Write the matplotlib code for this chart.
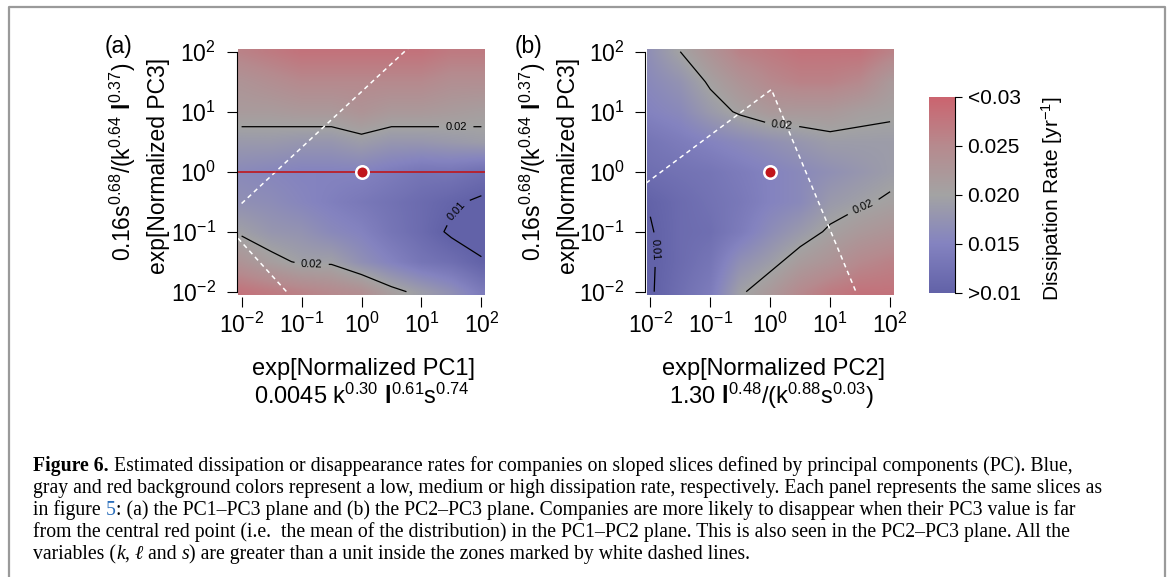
import numpy as np
import matplotlib
matplotlib.use('Agg')
import matplotlib.pyplot as plt
from matplotlib.colors import LinearSegmentedColormap
from matplotlib.lines import Line2D

plt.rcParams['font.family'] = ['Liberation Sans', 'DejaVu Sans']
plt.rcParams['mathtext.fontset'] = 'custom'
plt.rcParams['mathtext.rm'] = 'Liberation Sans'
plt.rcParams['mathtext.it'] = 'Liberation Sans:italic'
plt.rcParams['mathtext.bf'] = 'Liberation Sans:bold'

W, H = 1168, 577

# log10 positions of the grid nodes (both axes)
grid_pos = [-2, -1.5, -1, -0.5, 0, 0.5, 1, 1.5, 2]

# dissipation rate [1/yr], PC1-PC3 slice; rows go from PC3=10^2 down to 10^-2
rate_a = [
    [0.026, 0.027, 0.028, 0.028, 0.028, 0.028, 0.028, 0.027, 0.027],
    [0.023, 0.024, 0.025, 0.025, 0.025, 0.025, 0.025, 0.024, 0.024],
    [0.0215, 0.0215, 0.022, 0.022, 0.023, 0.022, 0.022, 0.0215, 0.021],
    [0.0185, 0.0185, 0.018, 0.018, 0.019, 0.018, 0.018, 0.0185, 0.019],
    [0.016, 0.0155, 0.015, 0.015, 0.015, 0.014, 0.013, 0.013, 0.012],
    [0.017, 0.0165, 0.0155, 0.0145, 0.0135, 0.0125, 0.0115, 0.0105, 0.0095],
    [0.0195, 0.018, 0.0175, 0.016, 0.015, 0.013, 0.0115, 0.0095, 0.009],
    [0.023, 0.021, 0.0195, 0.0195, 0.017, 0.015, 0.013, 0.012, 0.0102],
    [0.028, 0.027, 0.026, 0.025, 0.024, 0.021, 0.019, 0.017, 0.014],
]

# same for the PC2-PC3 slice
rate_b = [
    [0.017, 0.020, 0.023, 0.026, 0.027, 0.028, 0.028, 0.028, 0.026],
    [0.016, 0.0175, 0.0205, 0.023, 0.025, 0.026, 0.026, 0.025, 0.022],
    [0.015, 0.016, 0.0185, 0.0205, 0.022, 0.022, 0.022, 0.021, 0.0205],
    [0.013, 0.014, 0.015, 0.016, 0.017, 0.018, 0.019, 0.019, 0.019],
    [0.012, 0.0125, 0.013, 0.014, 0.015, 0.016, 0.017, 0.018, 0.019],
    [0.0102, 0.0115, 0.0125, 0.0135, 0.015, 0.016, 0.0185, 0.0195, 0.0205],
    [0.0098, 0.0115, 0.012, 0.014, 0.0165, 0.0185, 0.0205, 0.022, 0.023],
    [0.0097, 0.0115, 0.013, 0.017, 0.019, 0.0215, 0.023, 0.025, 0.026],
    [0.0097, 0.012, 0.014, 0.0195, 0.022, 0.025, 0.027, 0.028, 0.028],
]

# white dashed borders of the k, l, s > 1 zones (log10 units)
zone_a1_x, zone_a1_y = [-2.0, 0.78], [-0.53, 2.06]
zone_a2_x, zone_a2_y = [-2.06, -1.25], [-1.11, -2.0]
zone_b_x, zone_b_y = [-2.07, 0.02, 1.43], [-0.19, 1.37, -2.0]

# mean of the distribution
center_x, center_y = 0, 0

tick_pos = [-2, -1, 0, 1, 2]
tick_text = [r'$10^{-2}$', r'$10^{-1}$', r'$10^{0}$', r'$10^{1}$', r'$10^{2}$']

cbar_ticks = [0.01, 0.015, 0.02, 0.025, 0.03]
cbar_text = ['>0.01', '0.015', '0.020', '0.025', '<0.03']

cmap = LinearSegmentedColormap.from_list('diss', [
    (0.0, '#6262A8'), (0.25, '#8483C0'), (0.5, '#A3A3A3'),
    (0.75, '#B68A8E'), (1.0, '#CB646F')])


def px(x, y):
    return x / W, 1 - y / H


fig = plt.figure(figsize=(W / 100, H / 100), dpi=100)

ax_a = fig.add_axes([238 / W, 1 - 294.7 / H, 247 / W, 246 / H])
ax_b = fig.add_axes([646.7 / W, 1 - 294.7 / H, 247 / W, 246 / H])

label_pos_a = {'0.02': [(1.58, 0.85), (-0.83, -1.32)], '0.01': [(1.6, -0.67)]}
label_pos_b = {'0.02': [(0.18, 0.6), (1.6, -0.71)], '0.01': [(-1.93, -1.3)]}

for ax, rate, lpos in ((ax_a, rate_a, label_pos_a), (ax_b, rate_b, label_pos_b)):
    z = np.flipud(np.array(rate))
    im = ax.imshow(z, origin='lower', extent=[-2.25, 2.25, -2.25, 2.25],
                   cmap=cmap, vmin=0.01, vmax=0.03, interpolation='bilinear',
                   aspect='auto')
    cs = ax.contour(grid_pos, grid_pos, z, levels=[0.01, 0.02],
                    colors='black', linewidths=0.9)
    manual = lpos['0.01'] + lpos['0.02']
    ax.clabel(cs, fmt={0.01: '0.01', 0.02: '0.02'}, fontsize=8,
              inline=True, manual=manual)
    ax.set_xlim(-2.06, 2.06)
    ax.set_ylim(-2.05, 2.05)
    ax.set_xticks(tick_pos)
    ax.set_xticklabels(tick_text)
    ax.set_yticks(tick_pos)
    ax.set_yticklabels(tick_text)
    for s in ('top', 'right'):
        ax.spines[s].set_visible(False)
    ax.spines['left'].set_position(('outward', 1))
    ax.spines['left'].set_bounds(-2, 2)
    ax.spines['left'].set_linewidth(0.8)
    ax.spines['bottom'].set_position(('outward', 2))
    ax.spines['bottom'].set_visible(False)
    ax.tick_params(axis='y', direction='out', length=7, width=0.8,
                   labelsize=16.5, pad=8)
    ax.tick_params(axis='x', direction='out', length=7, width=0.8,
                   labelsize=16.5, pad=4)
    ax.plot(center_x, center_y, 'o', color='#C0161C', markersize=9,
            markeredgecolor='white', markeredgewidth=1.8, zorder=6)

ax_a.axhline(center_y, color='#C0161C', linewidth=1.2, zorder=5)
ax_a.plot(zone_a1_x, zone_a1_y, color='white', linestyle=(0, (3, 2.5)), linewidth=1.1)
ax_a.plot(zone_a2_x, zone_a2_y, color='white', linestyle=(0, (3, 2.5)), linewidth=1.1)
ax_b.plot(zone_b_x, zone_b_y, color='white', linestyle=(0, (3, 2.5)), linewidth=1.1)

# axis titles
ylab1 = r'0.16s$^{0.68}$/(k$^{0.64}$ $\mathbf{l}^{0.37}$)'
ylab2 = 'exp[Normalized PC3]'
for dx, tag in ((0, '(a)'), (410, '(b)')):
    fig.text(*px(123 + dx, 162), ylab1, rotation=90, fontsize=16.5,
             ha='center', va='center')
    fig.text(*px(158 + dx, 166), ylab2, rotation=90, fontsize=16.5,
             ha='center', va='center')
    fig.text(*px(119 + dx, 46), tag, fontsize=16.5, ha='center', va='center')

fig.text(*px(364, 369), 'exp[Normalized PC1]', fontsize=17, ha='center', va='center')
fig.text(*px(362, 396), r'0.0045 k$^{0.30}$ $\mathbf{l}^{0.61}$s$^{0.74}$',
         fontsize=17, ha='center', va='center')
fig.text(*px(773, 369), 'exp[Normalized PC2]', fontsize=17, ha='center', va='center')
fig.text(*px(771, 396), r'1.30 $\mathbf{l}^{0.48}$/(k$^{0.88}$s$^{0.03}$)',
         fontsize=17, ha='center', va='center')

# colour bar
cax = fig.add_axes([929 / W, 1 - 292.5 / H, 26 / W, 195.5 / H])
cb = fig.colorbar(im, cax=cax, ticks=cbar_ticks)
cb.outline.set_visible(False)
cb.set_ticklabels(cbar_text)
cax.tick_params(direction='out', length=5, width=0.8, labelsize=15, pad=4)
cax.add_line(Line2D([1, 1], [0.01, 0.03], transform=cax.get_yaxis_transform(),
                    color='black', linewidth=0.8, clip_on=False))
fig.text(*px(1052, 199), r'Dissipation Rate [yr$^{-1}$]', rotation=90,
         fontsize=15, ha='center', va='center')

# gray frame around the figure
frame_kw = dict(color='#9A9A9A', linewidth=1.6)
fig.add_artist(Line2D([9 / W, 9 / W, 1165 / W, 1165 / W],
                      [0, 1 - 7 / H, 1 - 7 / H, 0], **frame_kw))

# caption
cap_size = 14.2
serif = ['Liberation Serif', 'DejaVu Serif']
normal = dict(family=serif)
bold = dict(family=serif, weight='bold')
ital = dict(family=serif, style='italic')
link = dict(family=serif, color='#2A6EBB')

caption = [
    [('Figure 6.', bold),
     (' Estimated dissipation or disappearance rates for companies on sloped slices defined by principal components (PC). Blue,', normal)],
    [('gray and red background colors represent a low, medium or high dissipation rate, respectively. Each panel represents the same slices as', normal)],
    [('in figure ', normal), ('5', link),
     (': (a) the PC1\u2013PC3 plane and (b) the PC2\u2013PC3 plane. Companies are more likely to disappear when their PC3 value is far', normal)],
    [('from the central red point (i.e.  the mean of the distribution) in the PC1\u2013PC2 plane. This is also seen in the PC2\u2013PC3 plane. All the', normal)],
    [('variables (', normal), ('k', ital), (', ', normal), ('\u2113', ital),
     (' and ', normal), ('s', ital),
     (') are greater than a unit inside the zones marked by white dashed lines.', normal)],
]

renderer = fig.canvas.get_renderer()
for i, runs in enumerate(caption):
    x = 33
    y = 471 + 22 * i
    for txt, kw in runs:
        t = fig.text(*px(x, y), txt, fontsize=cap_size, ha='left',
                     va='baseline', **kw)
        x += t.get_window_extent(renderer).width

fig.savefig('out.png', dpi=100)
